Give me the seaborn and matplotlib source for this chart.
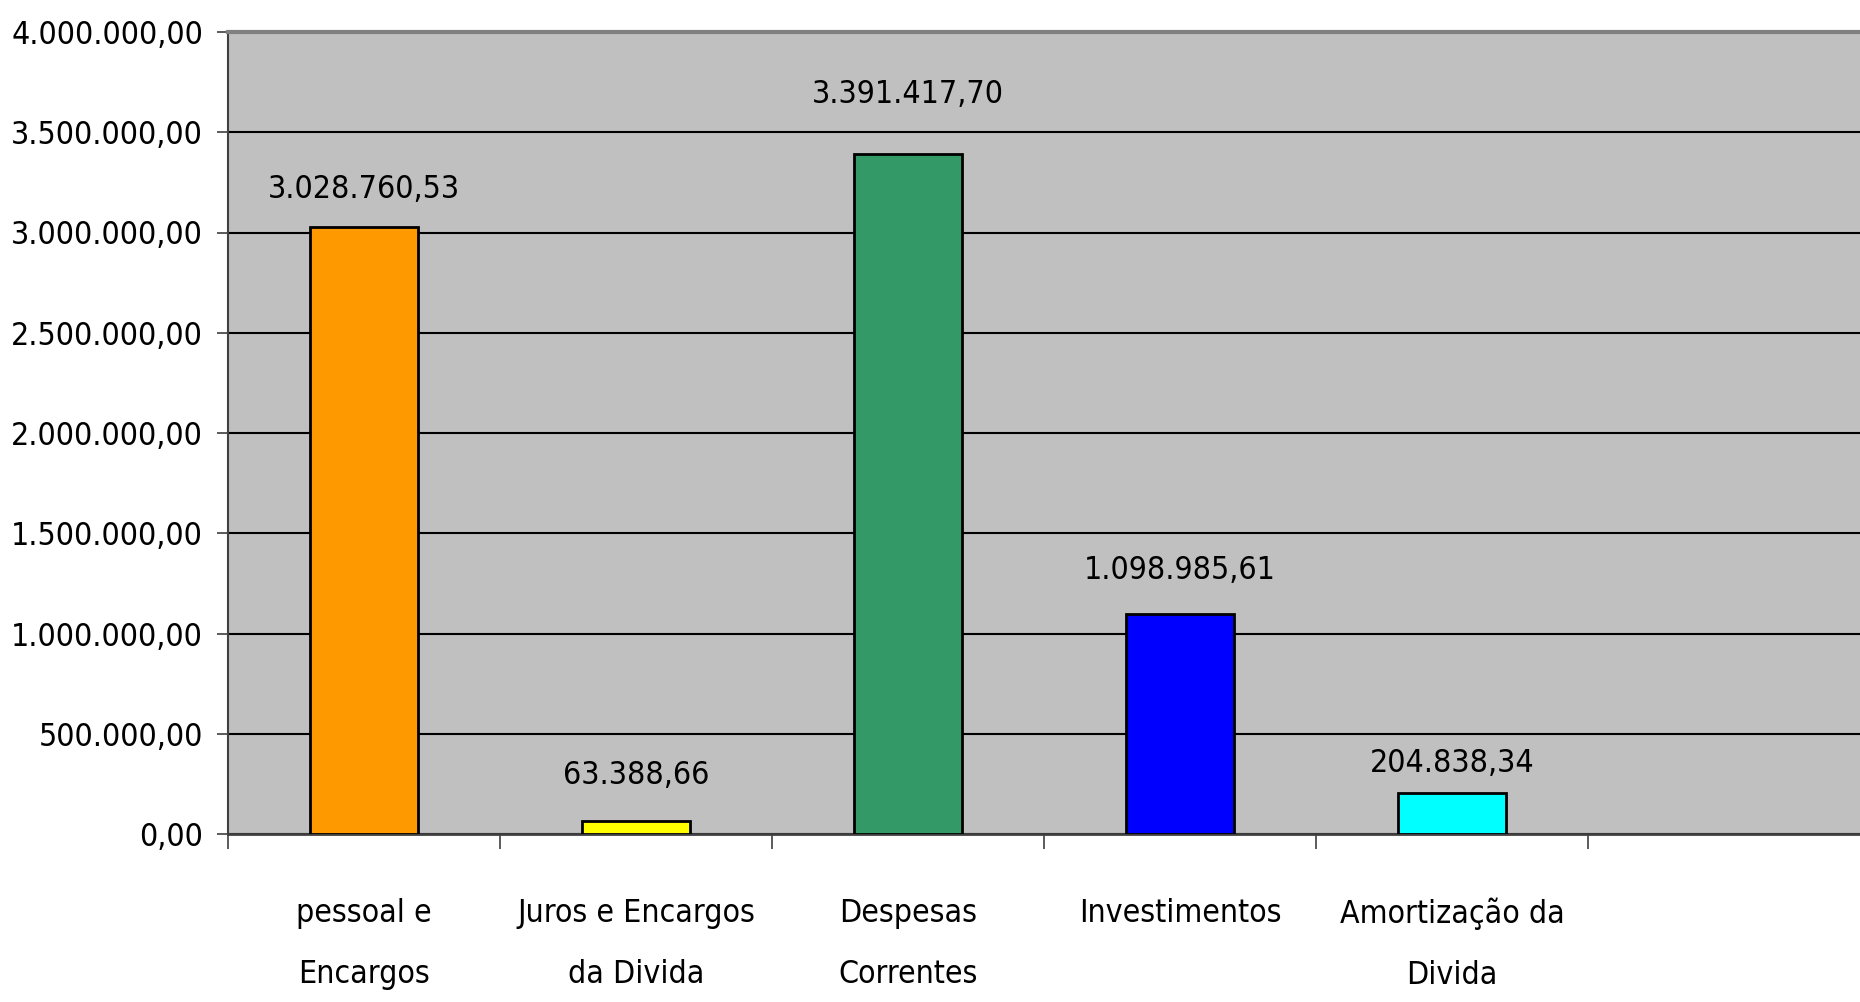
import matplotlib
matplotlib.use("Agg")
import matplotlib.pyplot as plt
import matplotlib.ticker as mticker
from matplotlib import font_manager
from matplotlib.font_manager import FontProperties
from matplotlib.textpath import TextPath
import numpy as np
import pandas as pd
import seaborn as sns

# Data
categorias = ["pessoal e\nEncargos", "Juros e Encargos\nda Divida", "Despesas\nCorrentes",
              "Investimentos", "Amortização da\nDivida"]
valores = [3028760.53, 63388.66, 3391417.70, 1098985.61, 204838.34]
cores = ["#FF9900", "#FFFF00", "#339966", "#0000FF", "#00FFFF"]
y_ticks = np.arange(0, 4000001, 500000)

# the value labels are not placed evenly in the original (points above bar top)
label_offsets = [26.5, 33, 42.5, 31, 21]

def br_fmt(v, pos=None):
    s = f"{v:,.2f}"
    return s.replace(",", "X").replace(".", ",").replace("X", ".")

sns.set_style("white")

# look for a narrow / condensed sans font, the reference uses Arial Narrow
fp = FontProperties(family="Liberation Sans")
for f in font_manager.fontManager.ttflist:
    nome = f.fname.lower()
    if ("narrow" in nome or "condensed" in nome) and "bold" not in nome \
            and "italic" not in nome and "oblique" not in nome and "mono" not in nome:
        fp = FontProperties(fname=f.fname)
        break

# pick the size so that "4.000.000,00" is ~188 px wide as in the reference
largura = TextPath((0, 0), "4.000.000,00", size=100, prop=fp).get_extents().width
fs = min(188 * 0.72 * 100 / largura, 32)

df = pd.DataFrame({"cat": categorias, "valor": valores})

fig = plt.figure(figsize=(18.6, 10.02), dpi=100)
ax = fig.add_axes([228 / 1860, 1 - 834 / 1002, 1 - 228 / 1860, (834 - 32) / 1002])
ax.set_facecolor("#C0C0C0")

sns.barplot(data=df, x="cat", y="valor", hue="cat", palette=cores, legend=False,
            saturation=1, width=0.4, edgecolor="black", linewidth=2, ax=ax, zorder=3)

ax.set_xlim(-0.5, 5.5)
ax.set_ylim(0, 4000000)
ax.set_yticks(y_ticks)
ax.yaxis.set_major_formatter(mticker.FuncFormatter(br_fmt))
ax.tick_params(axis="y", left=True, length=8, width=1.2, color="#404040", pad=10)
for lbl in ax.get_yticklabels():
    lbl.set_fontproperties(fp)
    lbl.set_fontsize(fs)
    lbl.set_color("black")

# x ticks between categories, labels centred under each slot
ax.set_xticks(np.arange(-0.5, 5.0, 1.0))
ax.set_xticklabels([])
ax.set_xticks(range(len(categorias)), labels=categorias, minor=True)
ax.tick_params(axis="x", which="major", bottom=True, length=11, width=1.2,
               color="#404040", direction="out")
ax.tick_params(axis="x", which="minor", bottom=True, length=0, pad=46)
for lbl in ax.get_xticklabels(minor=True):
    lbl.set_fontproperties(fp)
    lbl.set_fontsize(fs)
    lbl.set_color("black")
    lbl.set_linespacing(2.25)
ax.set_xlabel("")
ax.set_ylabel("")

ax.grid(axis="y", color="black", linewidth=1.5, zorder=1)
ax.set_axisbelow(True)

ax.spines["right"].set_visible(False)
ax.spines["top"].set_color("#808080")
ax.spines["top"].set_linewidth(3)
ax.spines["left"].set_color("#404040")
ax.spines["left"].set_linewidth(1.5)
ax.spines["bottom"].set_color("#404040")
ax.spines["bottom"].set_linewidth(2)

for i, v in enumerate(valores):
    ax.annotate(br_fmt(v), (i, v), xytext=(0, label_offsets[i]), textcoords="offset points",
                ha="center", va="center", fontproperties=fp, fontsize=fs,
                color="black", zorder=4)

fig.savefig("out.png", dpi=100)
